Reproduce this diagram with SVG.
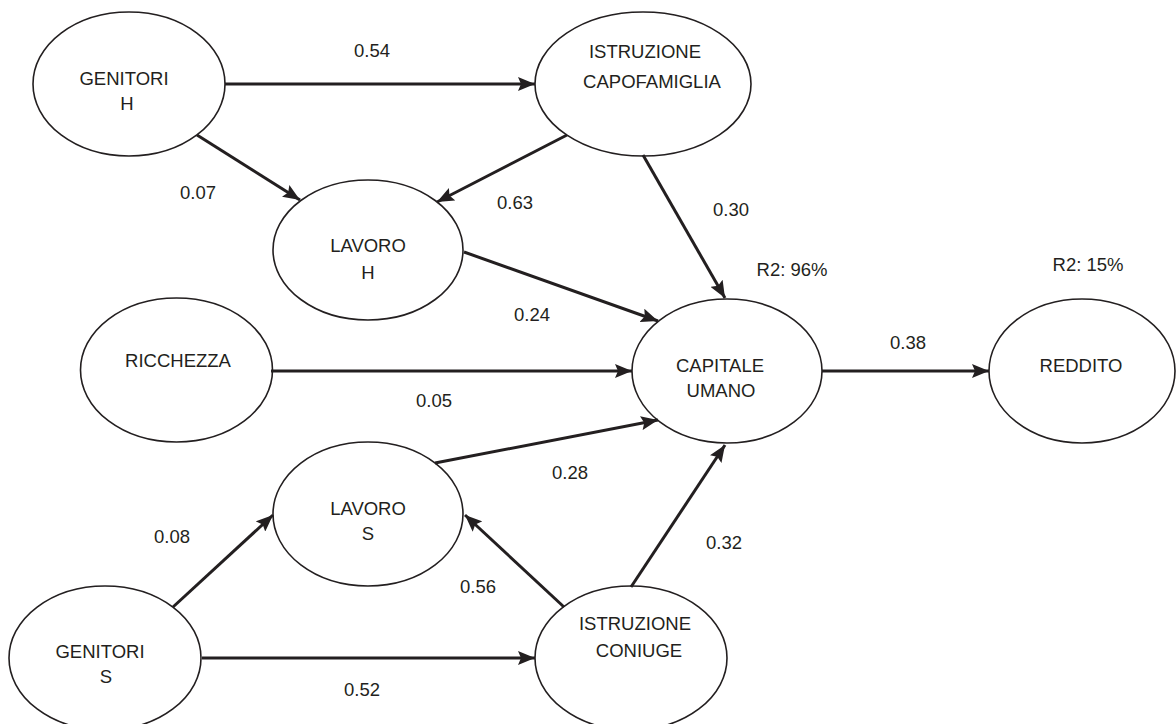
<svg xmlns="http://www.w3.org/2000/svg" width="1176" height="724" viewBox="0 0 1176 724">
<style>
.n ellipse{fill:#fff;stroke:#231f20;stroke-width:1.6}
text{font-family:"Liberation Sans",Arial,sans-serif;font-size:18.5px;fill:#231f20;text-anchor:middle}
.c line{stroke:#231f20;stroke-width:3;marker-end:url(#ah)}
</style>
<defs>
<marker id="ah" markerUnits="userSpaceOnUse" viewBox="0 0 17 14" markerWidth="17" markerHeight="14" refX="17" refY="7" orient="auto">
<path d="M0,0 L17,7 L0,14 L3,7 z" fill="#231f20"/>
</marker>
</defs>
<rect width="1176" height="724" fill="#fff"/>
<g id="genitori-h" class="n"><ellipse cx="129" cy="84" rx="96" ry="72"/><text x="124" y="85">GENITORI</text><text x="127" y="110">H</text></g>
<g id="istruzione-capofamiglia" class="n"><ellipse cx="643" cy="84" rx="108" ry="72"/><text x="645" y="58">ISTRUZIONE</text><text x="652" y="88">CAPOFAMIGLIA</text></g>
<g id="lavoro-h" class="n"><ellipse cx="368" cy="250" rx="95" ry="70"/><text x="368" y="252">LAVORO</text><text x="368" y="279">H</text></g>
<g id="ricchezza" class="n"><ellipse cx="176.5" cy="370" rx="96" ry="72"/><text x="178" y="367">RICCHEZZA</text></g>
<g id="capitale-umano" class="n"><ellipse cx="727" cy="371" rx="95" ry="72"/><text x="720" y="372">CAPITALE</text><text x="721" y="397">UMANO</text></g>
<g id="reddito" class="n"><ellipse cx="1082" cy="371" rx="93" ry="72"/><text x="1081" y="372">REDDITO</text></g>
<g id="lavoro-s" class="n"><ellipse cx="368" cy="514" rx="95" ry="72"/><text x="368" y="515">LAVORO</text><text x="368" y="540">S</text></g>
<g id="genitori-s" class="n"><ellipse cx="105" cy="658" rx="96" ry="72"/><text x="100" y="658">GENITORI</text><text x="106" y="683">S</text></g>
<g id="istruzione-coniuge" class="n"><ellipse cx="631" cy="658" rx="96" ry="72"/><text x="635" y="630">ISTRUZIONE</text><text x="639" y="657">CONIUGE</text></g>
<g id="connectors" class="c">
<line x1="225" y1="84" x2="535" y2="84"/>
<line x1="197" y1="135" x2="300" y2="200"/>
<line x1="567" y1="135" x2="437" y2="202"/>
<line x1="643" y1="155" x2="725" y2="298"/>
<line x1="464" y1="252" x2="658" y2="321"/>
<line x1="271" y1="371" x2="632" y2="371"/>
<line x1="435" y1="463" x2="658" y2="420"/>
<line x1="631" y1="587" x2="725" y2="445"/>
<line x1="822" y1="371" x2="989" y2="371"/>
<line x1="173" y1="607" x2="273" y2="515"/>
<line x1="564" y1="607" x2="465" y2="515"/>
<line x1="202" y1="658" x2="535" y2="658"/>
</g>
<g id="labels">
<text x="372" y="57">0.54</text>
<text x="198" y="199">0.07</text>
<text x="515" y="209">0.63</text>
<text x="731" y="216">0.30</text>
<text x="792" y="276">R2: 96%</text>
<text x="1088" y="271">R2: 15%</text>
<text x="532" y="321">0.24</text>
<text x="908" y="349">0.38</text>
<text x="434" y="407">0.05</text>
<text x="570" y="479">0.28</text>
<text x="172" y="543">0.08</text>
<text x="724" y="549">0.32</text>
<text x="478" y="593">0.56</text>
<text x="362" y="696">0.52</text>
</g>
</svg>
